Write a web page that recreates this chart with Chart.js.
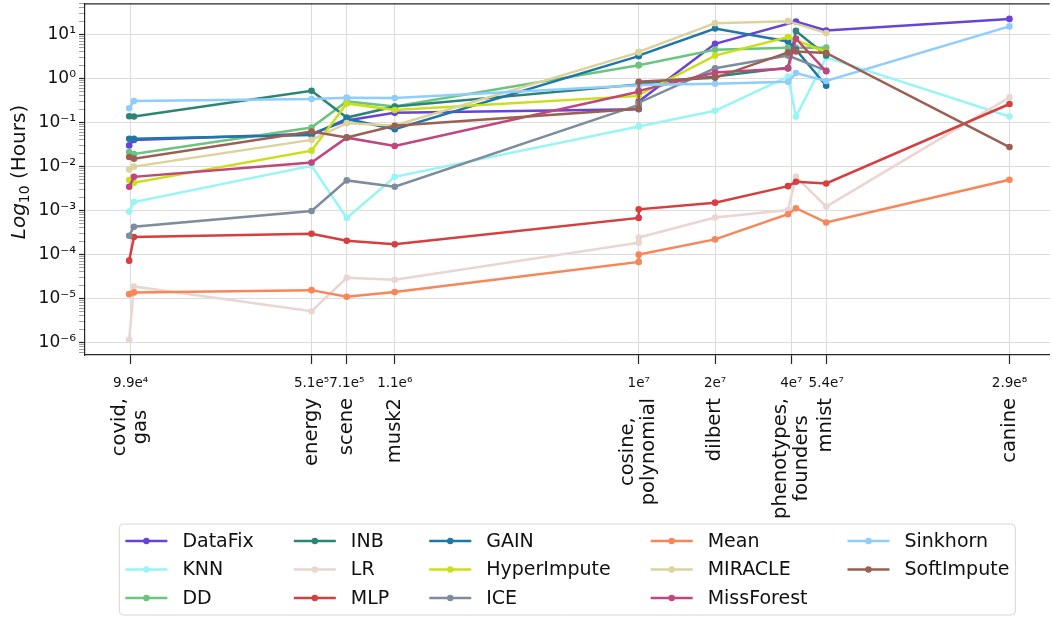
<!DOCTYPE html>
<html>
<head>
<meta charset="utf-8">
<title>Imputation runtime vs dataset size</title>
<script src="https://cdn.jsdelivr.net/npm/chart.js@4.4.1/dist/chart.umd.min.js"></script>
<style>
  html, body { margin: 0; padding: 0; background: #fff; }
  #wrap { width: 1053px; height: 619px; }
</style>
</head>
<body>
<div id="wrap"><canvas id="runtime"></canvas></div>
<script>
// dataset sizes (rows x cols), in the order the points are joined
const datasetNames = ["covid", "gas", "energy", "scene", "musk2", "cosine", "polynomial", "dilbert", "phenotypes", "founders", "mnist", "canine"];
const datasetSizes = [9.77e4, 1.02e5, 5.12e5, 7.05e5, 1.09e6, 1e7, 1e7, 2e7, 3.88e7, 4.17e7, 5.49e7, 2.9e8];

// x ticks: value, printed size, dataset name(s)
const sizeTicks = [9.9e4, 5.12e5, 7.05e5, 1.09e6, 1e7, 2e7, 4e7, 5.49e7, 2.9e8];
const sizeTickLabels = ["9.9e⁴", "5.1e⁵", "7.1e⁵", "1.1e⁶", "1e⁷", "2e⁷", "4e⁷", "5.4e⁷", "2.9e⁸"];
const sizeTickNames = [["covid,", "gas"], ["energy"], ["scene"], ["musk2"], ["cosine,", "polynomial"], ["dilbert"], ["phenotypes,", "founders"], ["mnist"], ["canine"]];

// runtime in hours per method (null = not run)
const hoursDataFix     = [0.030, 0.040, 0.055, 0.11, 0.165, 0.20, 0.30, 6.1, null, 19.7, 12.3, 22.5];
const hoursKNN         = [0.00094, 0.00155, 0.0103, 0.00067, 0.0058, 0.081, 0.081, 0.183, 1.1, 0.136, 3.0, 0.136];
const hoursDD          = [0.0212, 0.0191, 0.0766, 0.30, 0.23, 2.0, 2.0, 4.5, 5.0, 5.0, 5.0, null];
const hoursINB         = [0.138, 0.136, 0.525, 0.129, 0.229, 0.73, 0.76, 1.1, 1.75, 12.0, 3.3, null];
const hoursLR          = [1.15e-6, 1.87e-5, 5.1e-6, 2.94e-5, 2.65e-5, 1.84e-4, 2.43e-4, 6.9e-4, 1.02e-3, 5.8e-3, 1.22e-3, 0.371];
const hoursMLP         = [7.2e-5, 2.48e-4, 2.94e-4, 2.04e-4, 1.69e-4, 6.76e-4, 1.06e-3, 1.5e-3, 3.56e-3, 4.46e-3, 4.1e-3, 0.262];
const hoursGAIN        = [0.0426, 0.0426, 0.052, 0.12, 0.070, 3.2, 3.3, 13.6, 6.9, 4.5, 0.68, null];
const hoursHyperImpute = [0.00488, 0.00424, 0.0228, 0.27, 0.192, 0.40, 0.42, 3.3, 8.7, null, 3.98, null];
const hoursICE         = [0.000265, 0.000424, 0.00097, 0.0048, 0.00344, 0.25, 0.28, 1.7, 3.3, null, 1.5, null];
const hoursMean        = [1.25e-5, 1.37e-5, 1.54e-5, 1.09e-5, 1.39e-5, 6.76e-5, 9.87e-5, 2.19e-4, 8.2e-4, 1.12e-3, 5.3e-4, 4.95e-3];
const hoursMIRACLE     = [0.0085, 0.0099, 0.040, 0.096, 0.085, 3.9, 4.0, 18.0, 20.0, null, 10.7, null];
const hoursMissForest  = [0.00344, 0.00578, 0.0122, 0.045, 0.029, 0.50, 0.52, 1.36, 1.67, 8.0, 1.45, null];
const hoursSinkhorn    = [0.209, 0.307, 0.340, 0.365, 0.358, 0.70, 0.71, 0.755, 0.84, 1.32, 0.87, 15.2];
const hoursSoftImpute  = [0.0164, 0.0150, 0.062, 0.0456, 0.0837, 0.203, 0.838, 1.03, 3.9, 4.1, 3.8, 0.0275];

const methods = ["DataFix", "KNN", "DD", "INB", "LR", "MLP", "GAIN", "HyperImpute", "ICE", "Mean", "MIRACLE", "MissForest", "Sinkhorn", "SoftImpute"];
const hours = [hoursDataFix, hoursKNN, hoursDD, hoursINB, hoursLR, hoursMLP, hoursGAIN, hoursHyperImpute, hoursICE, hoursMean, hoursMIRACLE, hoursMissForest, hoursSinkhorn, hoursSoftImpute];
const colors = ["#6843d8", "#98f5f5", "#6cc57e", "#2b8576", "#ead5d1", "#d63f3f", "#1f77a6", "#c9df17", "#7d8d9d", "#f98658", "#ddd29c", "#c1457e", "#8ecdfd", "#9b5f53"];

const FONT = "'DejaVu Sans', sans-serif";
const INK = "#111";
const SPINE = "#262626";

const SUP = { "0": "⁰", "1": "¹", "2": "²", "3": "³", "4": "⁴", "5": "⁵", "6": "⁶", "7": "⁷", "8": "⁸", "9": "⁹", "-": "⁻" };
const sup = (n) => String(n).split("").map((c) => SUP[c]).join("");

// decade ticks plus 2..9 minor ticks for the hours axis
const yMin = 5.17e-7, yMax = 50.9;
const hourTicks = [];
for (let e = -7; e <= 1; e++) {
  for (let k = 1; k <= 9; k++) {
    const v = k * Math.pow(10, e);
    if (v >= yMin && v <= yMax) hourTicks.push({ value: v, major: k === 1 });
  }
}

const datasets = methods.map((name, k) => ({
  label: name,
  data: datasetSizes.map((x, i) => ({ x: x, y: hours[k][i] })),
  borderColor: colors[k],
  backgroundColor: colors[k],
  borderWidth: 2.5,
  pointRadius: 3.3,
  pointHoverRadius: 3.3,
  pointBorderWidth: 0,
  spanGaps: true,
  order: methods.length - k
}));

function drawBox(ctx, x, y, w, h, r) {
  ctx.beginPath();
  ctx.moveTo(x + r, y);
  ctx.lineTo(x + w - r, y);
  ctx.arcTo(x + w, y, x + w, y + r, r);
  ctx.lineTo(x + w, y + h - r);
  ctx.arcTo(x + w, y + h, x + w - r, y + h, r);
  ctx.lineTo(x + r, y + h);
  ctx.arcTo(x, y + h, x, y + h - r, r);
  ctx.lineTo(x, y + r);
  ctx.arcTo(x, y, x + r, y, r);
  ctx.closePath();
}

const decorations = {
  id: "decorations",
  afterDraw(chart) {
    const { ctx, chartArea: a, scales } = chart;
    ctx.save();

    // top spine
    ctx.strokeStyle = SPINE;
    ctx.lineWidth = 1.2;
    ctx.beginPath();
    ctx.moveTo(a.left, a.top + 0.5);
    ctx.lineTo(a.right, a.top + 0.5);
    ctx.stroke();

    // dataset names under the size ticks, rotated
    ctx.font = "19.5px " + FONT;
    ctx.fillStyle = INK;
    ctx.textAlign = "center";
    ctx.textBaseline = "middle";
    const top = scales.x.bottom + 8;
    const lh = 21;
    sizeTicks.forEach((v, i) => {
      const lines = sizeTickNames[i];
      const px = scales.x.getPixelForValue(v);
      const maxW = Math.max(...lines.map((t) => ctx.measureText(t).width));
      lines.forEach((t, j) => {
        const off = (j - (lines.length - 1) / 2) * lh;
        ctx.save();
        ctx.translate(px + off, top + maxW / 2);
        ctx.rotate(-Math.PI / 2);
        ctx.fillText(t, 0, 0);
        ctx.restore();
      });
    });

    // y axis title: italic Log with subscript 10
    ctx.save();
    ctx.translate(20, 172);
    ctx.rotate(-Math.PI / 2);
    ctx.textAlign = "left";
    ctx.textBaseline = "middle";
    const parts = [
      { t: "Log", f: "italic 20px " + FONT, dy: 0 },
      { t: "10", f: "14px " + FONT, dy: 5 },
      { t: " (Hours)", f: "20px " + FONT, dy: 0 }
    ];
    let total = 0;
    parts.forEach((p) => { ctx.font = p.f; p.w = ctx.measureText(p.t).width; total += p.w; });
    let tx = -total / 2;
    parts.forEach((p) => { ctx.font = p.f; ctx.fillText(p.t, tx, p.dy); tx += p.w; });
    ctx.restore();

    // legend: 3 rows, filled column by column
    ctx.font = "19px " + FONT;
    const rows = 3, handle = 42, gap = 15, colGap = 40, rowH = 28.5, padX = 6;
    const items = chart.data.datasets;
    const cols = Math.ceil(items.length / rows);
    const colW = [];
    for (let c = 0; c < cols; c++) {
      let w = 0;
      for (let r = 0; r < rows; r++) {
        const d = items[c * rows + r];
        if (d) w = Math.max(w, ctx.measureText(d.label).width);
      }
      colW.push(handle + gap + w);
    }
    const legendW = colW.reduce((s, w) => s + w, 0) + colGap * (cols - 1) + 2 * padX;
    const bx = (a.left + a.right) / 2 - legendW / 2;
    const by = chart.height - 95;
    const bh = 91;
    drawBox(ctx, bx, by, legendW, bh, 4);
    ctx.fillStyle = "rgba(255,255,255,0.8)";
    ctx.fill();
    ctx.strokeStyle = "#d6d6d6";
    ctx.lineWidth = 1;
    ctx.stroke();

    let cx = bx + padX;
    for (let c = 0; c < cols; c++) {
      for (let r = 0; r < rows; r++) {
        const d = items[c * rows + r];
        if (!d) continue;
        const y = by + 17 + r * rowH;
        ctx.strokeStyle = d.borderColor;
        ctx.lineWidth = 2.5;
        ctx.beginPath();
        ctx.moveTo(cx, y);
        ctx.lineTo(cx + handle, y);
        ctx.stroke();
        ctx.fillStyle = d.borderColor;
        ctx.beginPath();
        ctx.arc(cx + handle / 2, y, 3.2, 0, Math.PI * 2);
        ctx.fill();
        ctx.fillStyle = INK;
        ctx.textAlign = "left";
        ctx.textBaseline = "middle";
        ctx.fillText(d.label, cx + handle + gap, y + 1);
      }
      cx += colW[c] + colGap;
    }
    ctx.restore();
  }
};

new Chart(document.getElementById("runtime"), {
  type: "line",
  data: { datasets: datasets },
  options: {
    responsive: true,
    maintainAspectRatio: false,
    animation: false,
    layout: { padding: { top: 1, right: 1, bottom: 229, left: 0 } },
    plugins: {
      legend: { display: false },
      tooltip: { enabled: false }
    },
    scales: {
      x: {
        type: "logarithmic",
        min: 6.54e4,
        max: 4.18e8,
        bounds: "data",
        afterBuildTicks: (s) => { s.ticks = sizeTicks.map((v) => ({ value: v })); },
        afterFit: (s) => { s.height = 35; s.paddingLeft = 0; s.paddingRight = 0; },
        ticks: {
          autoSkip: false,
          maxRotation: 0,
          padding: 11,
          color: INK,
          font: { family: FONT, size: 13.5 },
          callback: (v, i) => sizeTickLabels[i]
        },
        grid: { color: "#dcdcdc", lineWidth: 1, tickColor: SPINE, tickLength: 9, tickWidth: 1.2 },
        border: { color: SPINE, width: 1.2 }
      },
      y: {
        type: "logarithmic",
        min: yMin,
        max: yMax,
        bounds: "data",
        afterBuildTicks: (s) => { s.ticks = hourTicks.map((t) => ({ value: t.value, major: t.major })); },
        afterFit: (s) => { s.width = 85; s.paddingTop = 0; s.paddingBottom = 0; },
        ticks: {
          autoSkip: false,
          padding: 3,
          color: INK,
          font: { family: FONT, size: 17 },
          callback: (v, i, t) => (t[i].major ? "10" + sup(Math.round(Math.log10(v))) : "")
        },
        grid: {
          color: (c) => (c.tick && c.tick.major ? "#dcdcdc" : "rgba(0,0,0,0)"),
          tickColor: (c) => (c.tick && c.tick.major ? SPINE : "#8a8a8a"),
          tickWidth: (c) => (c.tick && c.tick.major ? 1.2 : 0.8),
          tickLength: 6,
          lineWidth: 1
        },
        border: { color: SPINE, width: 1.2 }
      }
    }
  },
  plugins: [decorations]
});
</script>
</body>
</html>
